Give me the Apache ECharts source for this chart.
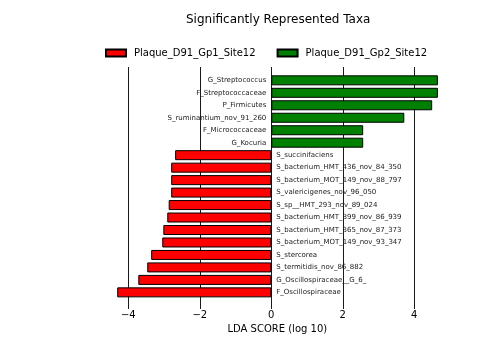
<!DOCTYPE html>
<html>
<head>
<meta charset="utf-8">
<script src="https://cdn.jsdelivr.net/npm/echarts@6/dist/echarts.min.js"></script>
<style>
  html, body { margin: 0; padding: 0; background: #fff; }
  #chart { width: 504px; height: 349px; }
</style>
</head>
<body>
<div id="chart"></div>
<script>
// Taxa, top to bottom
const taxa = [
  'G_Streptococcus',
  'F_Streptococcaceae',
  'P_Firmicutes',
  'S_ruminantium_nov_91_260',
  'F_Micrococcaceae',
  'G_Kocuria',
  'S_succinifaciens',
  'S_bacterium_HMT_436_nov_84_350',
  'S_bacterium_MOT_149_nov_88_797',
  'S_valericigenes_nov_96_050',
  'S_sp__HMT_293_nov_89_024',
  'S_bacterium_HMT_899_nov_86_939',
  'S_bacterium_HMT_365_nov_87_373',
  'S_bacterium_MOT_149_nov_93_347',
  'S_stercorea',
  'S_termitidis_nov_86_882',
  'G_Oscillospiraceae__G_6_',
  'F_Oscillospiraceae'
];

const groupNames = ['Plaque_D91_Gp1_Site12', 'Plaque_D91_Gp2_Site12'];

// LDA scores (log 10); '-' where the taxon belongs to the other group
const gp1Scores = ['-', '-', '-', '-', '-', '-',
  -2.69, -2.80, -2.80, -2.80, -2.87, -2.91, -3.02, -3.05, -3.36, -3.47, -3.72, -4.31];
const gp2Scores = [4.66, 4.66, 4.50, 3.72, 2.57, 2.57,
  '-', '-', '-', '-', '-', '-', '-', '-', '-', '-', '-', '-'];

// axis range and labelled ticks
const xRange = [-6, 6];
const xTickValues = [-4, -2, 0, 2, 4];

const FONT = 'DejaVu Sans';
const LINE = '#1a1a1a';
const fmtMinus = v => String(v).replace('-', '\u2212');

const chart = echarts.init(document.getElementById('chart'), null, { renderer: 'canvas' });

const gridLeft = 56.8, gridRight = 18.2;

chart.setOption({
  animation: false,
  backgroundColor: '#fff',
  title: {
    text: 'Significantly Represented Taxa',
    left: 186,
    top: 14,
    padding: 0,
    textStyle: { fontFamily: FONT, fontSize: 12, fontWeight: 'normal', color: '#000' }
  },
  legend: {
    data: groupNames,
    left: 105,
    top: 48,
    padding: 0,
    itemWidth: 20,
    itemHeight: 7,
    itemGap: 21,
    icon: 'rect',
    textStyle: { fontFamily: FONT, fontSize: 10, color: '#000', padding: [0, 0, 0, 3] }
  },
  grid: [
    // bars
    { left: gridLeft, right: gridRight, top: 74.1, bottom: 349 - 298.6 },
    // reference lines and ticks
    { left: gridLeft, right: gridRight, top: 67, bottom: 44 }
  ],
  xAxis: [
    { gridIndex: 0, type: 'value', min: xRange[0], max: xRange[1], interval: 2, show: false },
    {
      gridIndex: 1, type: 'value', min: xRange[0], max: xRange[1], interval: 2,
      axisLine: { show: false },
      axisTick: { show: true, length: 4, lineStyle: { color: LINE }, customValues: xTickValues },
      axisLabel: {
        margin: 5, fontFamily: FONT, fontSize: 10, color: '#000',
        customValues: xTickValues,
        formatter: fmtMinus
      },
      splitLine: {
        show: true,
        lineStyle: { width: 1, color: LINE }
      },
      name: 'LDA SCORE (log 10)',
      nameLocation: 'middle',
      nameGap: 18,
      nameTextStyle: { fontFamily: FONT, fontSize: 10, color: '#000', padding: [0, 0, 0, 12] }
    }
  ],
  yAxis: [
    { gridIndex: 0, type: 'category', data: taxa, inverse: true, show: false },
    { gridIndex: 1, type: 'value', min: 0, max: 1, show: false }
  ],
  series: [
    {
      name: groupNames[0],
      type: 'bar',
      xAxisIndex: 0, yAxisIndex: 0,
      data: gp1Scores,
      barWidth: 10,
      barGap: '-100%',
      itemStyle: { color: '#ff0000', borderColor: '#000', borderWidth: 1 },
      label: {
        show: true, position: 'right', distance: 5,
        formatter: '{b}', fontFamily: FONT, fontSize: 7, color: '#222'
      }
    },
    {
      name: groupNames[1],
      type: 'bar',
      xAxisIndex: 0, yAxisIndex: 0,
      data: gp2Scores,
      barWidth: 10,
      barGap: '-100%',
      itemStyle: { color: '#008000', borderColor: '#000', borderWidth: 1 },
      label: {
        show: true, position: 'left', distance: 5,
        formatter: '{b}', fontFamily: FONT, fontSize: 7, color: '#222'
      }
    }
  ]
});
</script>
</body>
</html>
